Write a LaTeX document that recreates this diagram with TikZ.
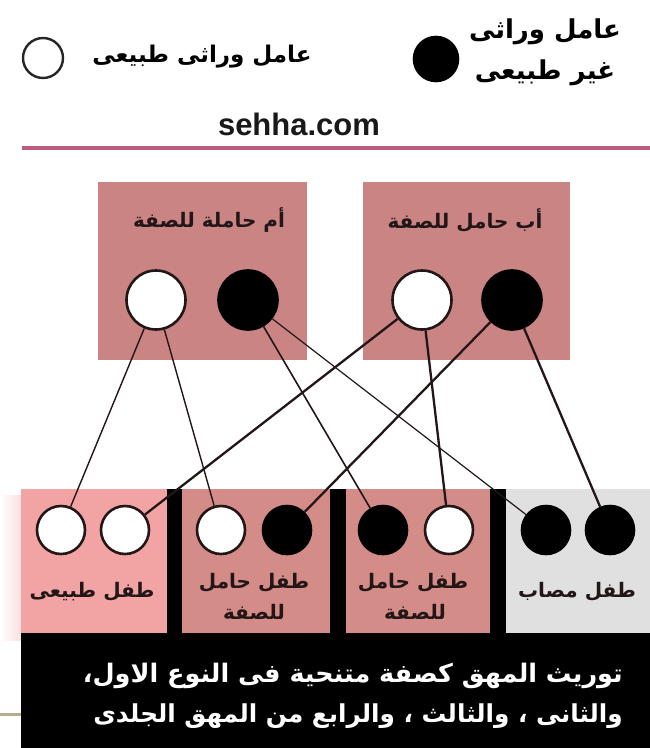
\documentclass[tikz,border=0pt]{standalone}
\usepackage{fontspec}
\setmainfont{Liberation Sans}
\newfontfamily\arfont[Script=Arabic]{DejaVu Sans}
\TeXXeTstate=1
\newcommand{\arsz}[1]{\fontsize{#1}{#1}\selectfont\arfont\bfseries}
\definecolor{rose}{RGB}{203,132,132}
\definecolor{rosekid}{RGB}{212,140,136}
\definecolor{lightpink}{RGB}{242,164,164}
\definecolor{grayk}{RGB}{224,224,224}
\definecolor{pinkline}{RGB}{188,92,122}
\definecolor{ink}{RGB}{35,22,22}
\definecolor{beige}{RGB}{185,170,140}
\tikzset{
  allele/.style={circle, draw=ink, line width=2.6pt, inner sep=0pt},
  wal/.style={allele, fill=white},
  bal/.style={allele, fill=black, draw=black},
  par/.style={minimum size=59pt},
  kid/.style={minimum size=48pt},
  mline/.style={draw=ink, line width=1.4pt},
  fline/.style={draw=ink, line width=2.3pt},
  lbl/.style={inner sep=0pt, text=ink},
  wlbl/.style={inner sep=0pt, text=white},
}
\begin{document}
\begin{tikzpicture}[x=1pt,y=-1pt]
\useasboundingbox (0,0) rectangle (650,748);
\fill[white] (0,0) rectangle (650,748);
% legend
\node[wal, minimum size=40pt, line width=2.4pt, draw=black!85] (lw) at (43,58) {};
\node[lbl, text=black] (lwt) at (202,57) {\arsz{23}\beginR عامل وراثى طبيعى\endR};
\node[bal, minimum size=44pt] (lb) at (436,59) {};
\node[lbl, text=black] (lbt1) at (545,32) {\arsz{26}\beginR عامل وراثى\endR};
\node[lbl, text=black] (lbt2) at (545,73) {\arsz{26}\beginR غير طبيعى\endR};
\node[lbl, text=black!90] (site) at (299,124) {\fontsize{31}{31}\selectfont\bfseries sehha.com};
\draw[pinkline, line width=3.5pt] (22,148) -- (650,148);
% parent boxes
\fill[rose] (98,182) rectangle (307,360);
\fill[rose] (363,182) rectangle (570,360);
\node[lbl] (tm) at (209,220) {\arsz{20}\beginR أم حاملة للصفة\endR};
\node[lbl] (tf) at (465,220) {\arsz{20}\beginR أب حامل للصفة\endR};
% child boxes
\shade[left color=white, right color=lightpink!35] (0,495) rectangle (21,640);
\fill[lightpink] (21,489) rectangle (167,633);
\fill[rosekid] (182,489) rectangle (330,633);
\fill[rosekid] (346,489) rectangle (490,633);
\fill[grayk] (506,489) rectangle (650,633);
\fill[black] (167,489) rectangle (182,633);
\fill[black] (330,489) rectangle (346,633);
\fill[black] (490,489) rectangle (506,633);
\fill[black] (21,633) rectangle (650,748);
\fill[beige] (0,713) rectangle (21,716);
% parent alleles
\node[wal,par] (mw) at (156,300) {};
\node[bal,par] (mb) at (248,300) {};
\node[wal,par] (fw) at (422,300) {};
\node[bal,par] (fb) at (512,300) {};
% child alleles
\node[wal,kid] (k1) at (61,530) {};
\node[wal,kid] (k2) at (125,530) {};
\node[wal,kid] (k3) at (221,530) {};
\node[bal,kid] (k4) at (287,530) {};
\node[bal,kid] (k5) at (383,530) {};
\node[wal,kid] (k6) at (449,530) {};
\node[bal,kid] (k7) at (546,530) {};
\node[bal,kid] (k8) at (610,530) {};
% inheritance lines
\draw[mline] (mw) -- (k1);
\draw[mline] (mw) -- (k3);
\draw[mline, line width=1.6pt] (mb) -- (k5);
\draw[mline, line width=1.2pt] (mb) -- (k7);
\draw[fline] (fw) -- (k2);
\draw[fline] (fw) -- (k6);
\draw[fline] (fb) -- (k4);
\draw[fline] (fb) -- (k8);
% child labels
\node[lbl] (l1) at (92,592) {\arsz{20}\beginR طفل طبيعى\endR};
\node[lbl] (l2a) at (254,583) {\arsz{20}\beginR طفل حامل\endR};
\node[lbl] (l2b) at (254,612) {\arsz{20}\beginR للصفة\endR};
\node[lbl] (l3a) at (413,583) {\arsz{20}\beginR طفل حامل\endR};
\node[lbl] (l3b) at (415,612) {\arsz{20}\beginR للصفة\endR};
\node[lbl] (l4) at (577,592) {\arsz{20}\beginR طفل مصاب\endR};
% caption
\node[wlbl, anchor=east] (c1) at (623,676) {\arsz{25.5}\beginR توريث المهق كصفة متنحية فى النوع الاول،\endR};
\node[wlbl, anchor=east] (c2) at (623,716) {\arsz{24.7}\beginR والثانى ، والثالث ، والرابع من المهق الجلدى\endR};
\end{tikzpicture}
\end{document}
